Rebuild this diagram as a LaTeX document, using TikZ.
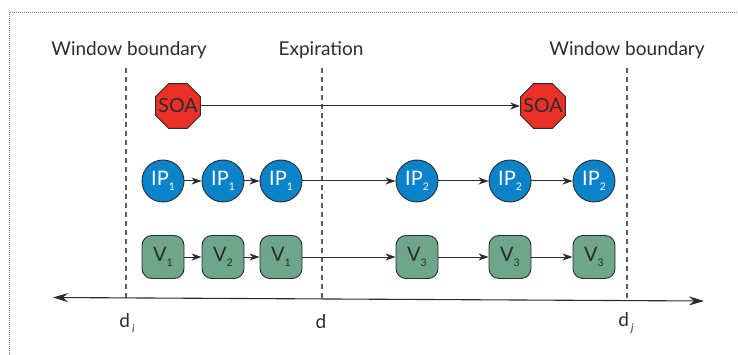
\documentclass[tikz,border=0pt]{standalone}
\usepackage{fontspec}
\setmainfont{Lato}
\usetikzlibrary{shapes.geometric,arrows.meta}
\definecolor{soared}{HTML}{EA3027}
\definecolor{ipblue}{HTML}{0A83CB}
\definecolor{vgreen}{HTML}{6DA68A}
\definecolor{inkgray}{HTML}{2B2B2B}
\definecolor{dashgray}{HTML}{5C5C5C}
\newcommand\lowsub[1]{\raisebox{-0.45ex}{\fontsize{10.5}{10.5}\selectfont #1}}
% label of zero width, so it does not enlarge the octagon
\newcommand\flatlabel[1]{\makebox[0pt]{#1}}
\begin{document}
\begin{tikzpicture}[x=1pt,y=-1pt,
  txt/.style={text=inkgray,font=\fontsize{19}{19}\selectfont,inner sep=0pt},
  soa/.style={regular polygon,regular polygon sides=8,minimum size=48.5pt,inner sep=0pt,
    draw=inkgray,line width=0.9pt,fill=soared,text=inkgray,font=\fontsize{19.5}{19.5}\selectfont},
  ip/.style={circle,minimum size=42pt,inner sep=0pt,draw=inkgray,line width=0.9pt,
    fill=ipblue,text=white,font=\fontsize{20}{20}\selectfont},
  vbox/.style={rectangle,rounded corners=10pt,minimum width=42pt,minimum height=43pt,inner sep=0pt,
    draw=inkgray,line width=0.9pt,fill=vgreen,text=inkgray,font=\fontsize{20}{20}\selectfont},
  link/.style={draw=inkgray,line width=1pt,-{Stealth[length=10pt,width=7pt,inset=3pt]}},
  boundary/.style={draw=dashgray,line width=1.6pt,dash pattern=on 5pt off 4pt},
  axis/.style={draw=inkgray,line width=1.1pt,{Stealth[length=15pt,width=9pt,inset=5pt]}-{Stealth[length=15pt,width=9pt,inset=5pt]}}
]
\useasboundingbox (0,0) rectangle (738,355);

% dotted outer frame
\coordinate (fbl) at (9,355);
\coordinate (ftl) at (9,12);
\coordinate (ftr) at (738,12);
\draw[gray,line width=0.8pt,dash pattern=on 0.8pt off 1.2pt] (fbl) -- (ftl) -- (ftr);

% headings
\node[txt] (hw1) at (129,50) {Window boundary};
\node[txt] (hex) at (321,50) {Expiration};
\node[txt] (hw2) at (627,50) {Window boundary};

% dashed boundaries
\coordinate (b1t) at (126,68);  \coordinate (b1b) at (126,298);
\coordinate (b2t) at (322,68);  \coordinate (b2b) at (322,299);
\coordinate (b3t) at (627,68);  \coordinate (b3b) at (627,300);
\draw[boundary] (b1t) -- (b1b);
\draw[boundary] (b2t) -- (b2b);
\draw[boundary] (b3t) -- (b3b);

% time axis
\coordinate (axl) at (53,297.5);
\coordinate (axr) at (704,301);
\draw[axis] (axl) -- (axr);

% axis labels
\node[txt] (di) at (127,323) {d\kern2pt\lowsub{\itshape i}};
\node[txt] (dm) at (321,322) {d};
\node[txt] (dj) at (626,323) {d\kern2pt\lowsub{\itshape j}};

% SOA records
\node[soa] (s1) at (178,106) {\flatlabel{SOA}};
\node[soa] (s2) at (543,106) {\flatlabel{SOA}};
\draw[link] (s1) -- (s2);

% IP records
\node[ip] (p1) at (163,181) {IP\lowsub{1}};
\node[ip] (p2) at (223,181) {IP\lowsub{1}};
\node[ip] (p3) at (281,181) {IP\lowsub{1}};
\node[ip] (p4) at (417,181) {IP\lowsub{2}};
\node[ip] (p5) at (510,181) {IP\lowsub{2}};
\node[ip] (p6) at (594,181) {IP\lowsub{2}};
\draw[link] (p1) -- (p2);
\draw[link] (p2) -- (p3);
\draw[link] (p3) -- (p4);
\draw[link] (p4) -- (p5);
\draw[link] (p5) -- (p6);

% version records
\node[vbox] (v1) at (163,257) {V\lowsub{1}};
\node[vbox] (v2) at (223,257) {V\lowsub{2}};
\node[vbox] (v3) at (281,257) {V\lowsub{1}};
\node[vbox] (v4) at (417,257) {V\lowsub{3}};
\node[vbox] (v5) at (510,257) {V\lowsub{3}};
\node[vbox] (v6) at (594,257) {V\lowsub{3}};
\draw[link] (v1) -- (v2);
\draw[link] (v2) -- (v3);
\draw[link] (v3) -- (v4);
\draw[link] (v4) -- (v5);
\draw[link] (v5) -- (v6);
\end{tikzpicture}
\end{document}
